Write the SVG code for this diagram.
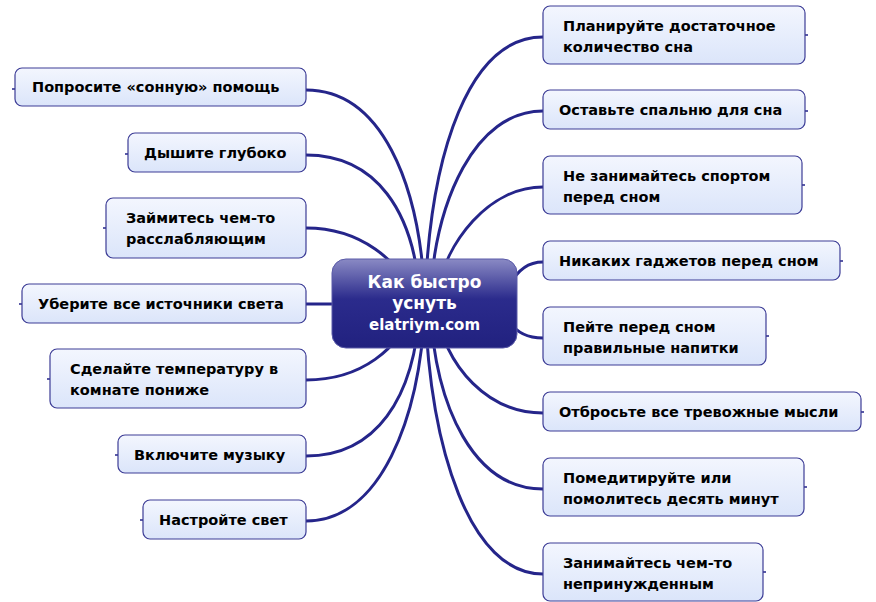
<svg xmlns="http://www.w3.org/2000/svg" width="876" height="602" viewBox="0 0 876 602">
<defs>
<linearGradient id="cg" x1="0" y1="0" x2="0" y2="1">
<stop offset="0" stop-color="#8a8ac4"/><stop offset="0.45" stop-color="#2b2b8c"/><stop offset="1" stop-color="#21217f"/>
</linearGradient>
<linearGradient id="ng" x1="0" y1="0" x2="0" y2="1">
<stop offset="0" stop-color="#f3f6fe"/><stop offset="1" stop-color="#dbe5fa"/>
</linearGradient>
<style>
.n{fill:url(#ng);stroke:#3c3c96;stroke-width:1.2}
.t{font-family:"DejaVu Sans",Verdana,sans-serif;font-weight:bold;font-size:14.5px;fill:#000}
.c{fill:none;stroke:#25258a;stroke-width:3;stroke-linecap:round}
.s{fill:none;stroke:#25258a;stroke-width:1.5}
</style>
</defs>
<rect width="876" height="602" fill="#fff"/>
<g id="connectors">
<path class="c" d="M306,90 C380,90 420,180 425,300"/>
<path class="c" d="M306,155 C375,155 415,210 420,300"/>
<path class="c" d="M306,228 C360,228 400,260 415,300"/>
<path class="c" d="M306,304 L340,304"/>
<path class="c" d="M306,380 C360,380 400,350 415,305"/>
<path class="c" d="M306,456 C375,456 415,400 420,305"/>
<path class="c" d="M306,521 C380,521 420,420 425,305"/>
<path class="c" d="M543,37 C470,37 430,150 425,300"/>
<path class="c" d="M543,111 C475,111 435,200 430,300"/>
<path class="c" d="M543,187 C490,187 445,240 435,300"/>
<path class="c" d="M543,262 C525,262 515,275 510,285"/>
<path class="c" d="M543,338 C525,338 515,330 510,322"/>
<path class="c" d="M543,413 C490,413 445,370 435,305"/>
<path class="c" d="M543,489 C475,489 435,410 430,305"/>
<path class="c" d="M543,574 C470,574 430,450 425,305"/>
<path class="s" d="M12,89 H15 M125,154 H128 M103,228 H106 M19,304 H22 M47,379 H50 M115,455 H118 M140,520 H143"/>
<path class="s" d="M805,35 H808 M805,111 H808 M802,185 H805 M840,261 H843 M766,336 H769 M861,412 H864 M804,487 H807 M763,572 H766"/>
</g>
<g id="center">
<rect x="332" y="259" width="185" height="89" rx="14" fill="url(#cg)" stroke="#5a5aa8" stroke-width="1"/>
<text x="424.5" y="288" text-anchor="middle" font-family="DejaVu Sans,Verdana,sans-serif" font-weight="bold" font-size="17" fill="#fff">Как быстро</text>
<text x="424.5" y="309" text-anchor="middle" font-family="DejaVu Sans,Verdana,sans-serif" font-weight="bold" font-size="17" fill="#fff">уснуть</text>
<text x="424.5" y="330" text-anchor="middle" font-family="DejaVu Sans,Verdana,sans-serif" font-weight="bold" font-size="15" fill="#fff">elatriym.com</text>
</g>
<g id="l1"><rect class="n" x="15" y="68" width="291" height="38" rx="7"/><text class="t" x="32" y="92">Попросите «сонную» помощь</text></g>
<g id="l2"><rect class="n" x="128" y="133" width="178" height="39" rx="7"/><text class="t" x="144" y="158">Дышите глубоко</text></g>
<g id="l3"><rect class="n" x="106" y="198" width="200" height="60" rx="7"/><text class="t" x="126" y="223">Займитесь чем-то</text><text class="t" x="126" y="244">расслабляющим</text></g>
<g id="l4"><rect class="n" x="22" y="284" width="284" height="39" rx="7"/><text class="t" x="38" y="309">Уберите все источники света</text></g>
<g id="l5"><rect class="n" x="50" y="349" width="256" height="59" rx="7"/><text class="t" x="70" y="374">Сделайте температуру в</text><text class="t" x="70" y="395">комнате пониже</text></g>
<g id="l6"><rect class="n" x="118" y="435" width="188" height="38" rx="7"/><text class="t" x="134" y="460">Включите музыку</text></g>
<g id="l7"><rect class="n" x="143" y="500" width="163" height="39" rx="7"/><text class="t" x="159" y="525">Настройте свет</text></g>
<g id="r1"><rect class="n" x="543" y="6" width="262" height="58" rx="7"/><text class="t" x="563" y="31">Планируйте достаточное</text><text class="t" x="563" y="52">количество сна</text></g>
<g id="r2"><rect class="n" x="543" y="90" width="262" height="39" rx="7"/><text class="t" x="559" y="115">Оставьте спальню для сна</text></g>
<g id="r3"><rect class="n" x="543" y="156" width="259" height="58" rx="7"/><text class="t" x="563" y="181">Не занимайтесь спортом</text><text class="t" x="563" y="202">перед сном</text></g>
<g id="r4"><rect class="n" x="543" y="241" width="297" height="39" rx="7"/><text class="t" x="559" y="266">Никаких гаджетов перед сном</text></g>
<g id="r5"><rect class="n" x="543" y="307" width="223" height="58" rx="7"/><text class="t" x="563" y="332">Пейте перед сном</text><text class="t" x="563" y="353">правильные напитки</text></g>
<g id="r6"><rect class="n" x="543" y="392" width="318" height="39" rx="7"/><text class="t" x="559" y="417">Отбросьте все тревожные мысли</text></g>
<g id="r7"><rect class="n" x="543" y="458" width="261" height="58" rx="7"/><text class="t" x="563" y="483">Помедитируйте или</text><text class="t" x="563" y="504">помолитесь десять минут</text></g>
<g id="r8"><rect class="n" x="543" y="543" width="220" height="58" rx="7"/><text class="t" x="563" y="568">Занимайтесь чем-то</text><text class="t" x="563" y="589">непринужденным</text></g>
</svg>
